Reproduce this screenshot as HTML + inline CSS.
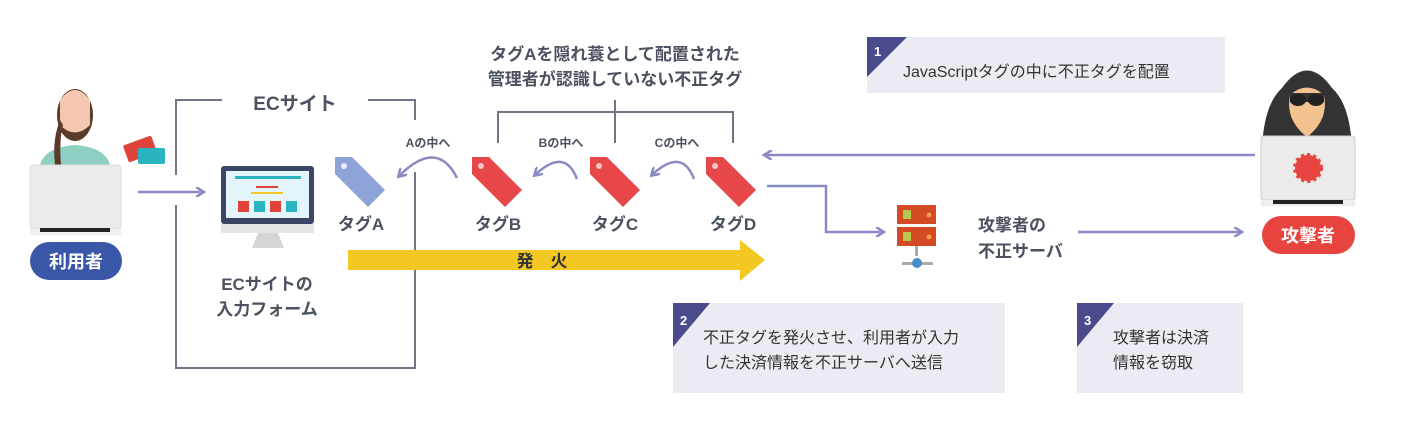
<!DOCTYPE html>
<html><head><meta charset="utf-8"><style>
body{margin:0;background:#fff}
text{font-family:"Liberation Sans","Noto Sans CJK JP",sans-serif;}
</style></head><body>
<svg width="1405" height="439" viewBox="0 0 1405 439" xmlns="http://www.w3.org/2000/svg">
<defs>
<marker id="ah" markerWidth="10" markerHeight="10" refX="7" refY="5" orient="auto" markerUnits="userSpaceOnUse"><path d="M0,0 L8,5 L0,10" fill="none" stroke="#8a8ac4" stroke-width="2.5"/></marker>
<g id="t"><path d="M0,0 h17 l33,33 l-17,17 l-33,-33z" fill="#e8474a"/><circle cx="9" cy="9" r="3" fill="#f7c4c4"/></g>
</defs>
<!-- info boxes -->
<rect x="867" y="37" width="358" height="56" fill="#ebecf3"/>
<path d="M867,37 h40 l-40,40z" fill="#4b4a8c"/><text x="874" y="56" font-size="13" font-weight="bold" fill="#fff">1</text>
<text x="903" y="77" font-size="16" fill="#333">JavaScriptタグの中に不正タグを配置</text>
<rect x="673" y="303" width="332" height="90" fill="#ebecf3"/>
<path d="M673,303 h37 l-37,44z" fill="#4b4a8c"/><text x="680" y="325" font-size="13" font-weight="bold" fill="#fff">2</text>
<text x="703" y="343" font-size="16" fill="#333">不正タグを発火させ、利用者が入力</text>
<text x="703" y="368" font-size="16" fill="#333">した決済情報を不正サーバへ送信</text>
<rect x="1077" y="303" width="166" height="90" fill="#ebecf3"/>
<path d="M1077,303 h37 l-37,44z" fill="#4b4a8c"/><text x="1084" y="325" font-size="13" font-weight="bold" fill="#fff">3</text>
<text x="1113" y="343" font-size="16" fill="#333">攻撃者は決済</text>
<text x="1113" y="368" font-size="16" fill="#333">情報を窃取</text>

<!-- EC box -->
<g stroke="#6f7787" stroke-width="2" fill="none">
<path d="M176,175 V100 H222"/><path d="M368,100 H415 V120"/>
<path d="M176,205 V368 H415 V172"/>
<path d="M498,143 V112 H733 V143"/><path d="M615,100 V143"/>
</g>
<text x="295" y="110" font-size="19" font-weight="bold" fill="#4a5160" text-anchor="middle">ECサイト</text>
<text x="615" y="60" font-size="17" font-weight="bold" fill="#4a5160" text-anchor="middle">タグAを隠れ蓑として配置された</text>
<text x="615" y="85" font-size="17" font-weight="bold" fill="#4a5160" text-anchor="middle">管理者が認識していない不正タグ</text>

<!-- user -->
<ellipse cx="75" cy="115" rx="18" ry="26" fill="#5a3b2a"/>
<path d="M60,100 q15,-20 30,0 v25 q-15,15 -30,0z" fill="#f5c7b3"/>
<path d="M40,165 q5,-18 35,-20 q30,2 35,20z" fill="#8fcfc2"/>
<path d="M60,120 q-8,20 -5,45 h6 q-2,-25 2,-40z" fill="#5a3b2a"/>
<rect x="30" y="165" width="91" height="64" rx="3" fill="#ebebeb" stroke="#ddd"/>
<rect x="30" y="229" width="91" height="6" fill="#eee"/><rect x="40" y="228" width="70" height="4" fill="#222"/>
<rect x="30" y="242" width="92" height="38" rx="19" fill="#3a57a7"/>
<text x="76" y="268" font-size="18" font-weight="bold" fill="#fff" text-anchor="middle">利用者</text>
<rect x="125" y="140" width="30" height="18" rx="2" fill="#e0433c" transform="rotate(-20 140 149)"/>
<rect x="138" y="148" width="27" height="16" rx="2" fill="#2bb3bf"/>
<line x1="138" y1="192" x2="203" y2="192" stroke="#8a8ac4" stroke-width="2.5" marker-end="url(#ah)"/>

<!-- monitor -->
<rect x="221" y="166" width="93" height="58" rx="3" fill="#3b4566"/>
<rect x="226" y="171" width="83" height="47" fill="#e3f4fa"/>
<rect x="221" y="224" width="93" height="9" fill="#e5e5e5"/>
<path d="M258,233 h20 l6,15 h-32z" fill="#d5d5d5"/>
<rect x="235" y="176" width="66" height="3" fill="#2bb3bf"/>
<rect x="256" y="186" width="22" height="2" fill="#e0433c"/>
<rect x="251" y="192" width="32" height="2" fill="#f1c52b"/>
<rect x="238" y="201" width="11" height="11" fill="#e0433c"/><rect x="254" y="201" width="11" height="11" fill="#2bb3bf"/>
<rect x="270" y="201" width="11" height="11" fill="#e0433c"/><rect x="286" y="201" width="11" height="11" fill="#2bb3bf"/>
<text x="267" y="290" font-size="17" font-weight="bold" fill="#4a5160" text-anchor="middle">ECサイトの</text>
<text x="267" y="315" font-size="17" font-weight="bold" fill="#4a5160" text-anchor="middle">入力フォーム</text>

<!-- tags -->
<g transform="translate(335,157)"><path d="M0,0 h17 l33,33 l-17,17 l-33,-33z" fill="#8ea4d8"/><circle cx="9" cy="9" r="3" fill="#e8eef9"/></g>
<use href="#t" transform="translate(472,157)"/>
<use href="#t" transform="translate(590,157)"/>
<use href="#t" transform="translate(706,157)"/>
<g font-size="17" font-weight="bold" fill="#4a5160" text-anchor="middle">
<text x="361" y="230">タグA</text><text x="498" y="230">タグB</text><text x="615" y="230">タグC</text><text x="733" y="230">タグD</text>
</g>
<g font-size="12" font-weight="bold" fill="#4a5160" text-anchor="middle">
<text x="428" y="147">Aの中へ</text><text x="561" y="147">Bの中へ</text><text x="677" y="147">Cの中へ</text>
</g>
<g stroke="#8a8ac4" stroke-width="2.5" fill="none">
<path d="M457,178 q-20,-40 -58,-2" marker-end="url(#ah)"/>
<path d="M577,179 q-12,-32 -42,-4" marker-end="url(#ah)"/>
<path d="M694,179 q-12,-32 -42,-4" marker-end="url(#ah)"/>
<line x1="1255" y1="155" x2="765" y2="155" marker-end="url(#ah)"/>
<path d="M767,186 H826 V232 H883" marker-end="url(#ah)"/>
<line x1="1078" y1="232" x2="1241" y2="232" marker-end="url(#ah)"/>
</g>

<!-- fire arrow -->
<path d="M348,250 H740 V240 L765,260 L740,281 V270 H348z" fill="#f3c823"/>
<text x="542" y="267" font-size="17" font-weight="bold" fill="#333" text-anchor="middle">発　火</text>

<!-- server -->
<rect x="897" y="205" width="39" height="19" fill="#d44a25"/><rect x="897" y="227" width="39" height="19" fill="#d44a25"/>
<rect x="903" y="210" width="8" height="9" fill="#b6c94a"/><rect x="903" y="232" width="8" height="9" fill="#b6c94a"/>
<circle cx="929" cy="215" r="2.5" fill="#f39c4a"/><circle cx="929" cy="237" r="2.5" fill="#f39c4a"/>
<rect x="915" y="246" width="3" height="10" fill="#aaa"/><rect x="902" y="262" width="31" height="3" fill="#aaa"/>
<circle cx="917" cy="263" r="5" fill="#4a8cc4"/>
<text x="978" y="231" font-size="17" font-weight="bold" fill="#4a5160">攻撃者の</text>
<text x="978" y="257" font-size="17" font-weight="bold" fill="#4a5160">不正サーバ</text>

<!-- attacker -->
<path d="M1262,168 q-2,-60 20,-80 q25,-35 50,0 q22,20 20,80z" fill="#333"/>
<path d="M1290,95 q17,-15 34,0 q5,25 -17,42 q-22,-17 -17,-42z" fill="#f2c28f"/>
<rect x="1290" y="93" width="34" height="9" fill="#333"/>
<ellipse cx="1298" cy="100" rx="8" ry="6" fill="#222"/><ellipse cx="1316" cy="100" rx="8" ry="6" fill="#222"/>
<rect x="1261" y="136" width="94" height="64" rx="3" fill="#ebebeb" stroke="#ccc"/>
<rect x="1261" y="200" width="94" height="6" fill="#eee"/><rect x="1273" y="200" width="70" height="4" fill="#222"/>
<circle cx="1308" cy="168" r="13" fill="#e8443f" stroke="#e8443f" stroke-width="4" stroke-dasharray="3 3"/>
<rect x="1262" y="216" width="93" height="38" rx="19" fill="#e8443f"/>
<text x="1308" y="242" font-size="18" font-weight="bold" fill="#fff" text-anchor="middle">攻撃者</text>
</svg>
</body></html>
